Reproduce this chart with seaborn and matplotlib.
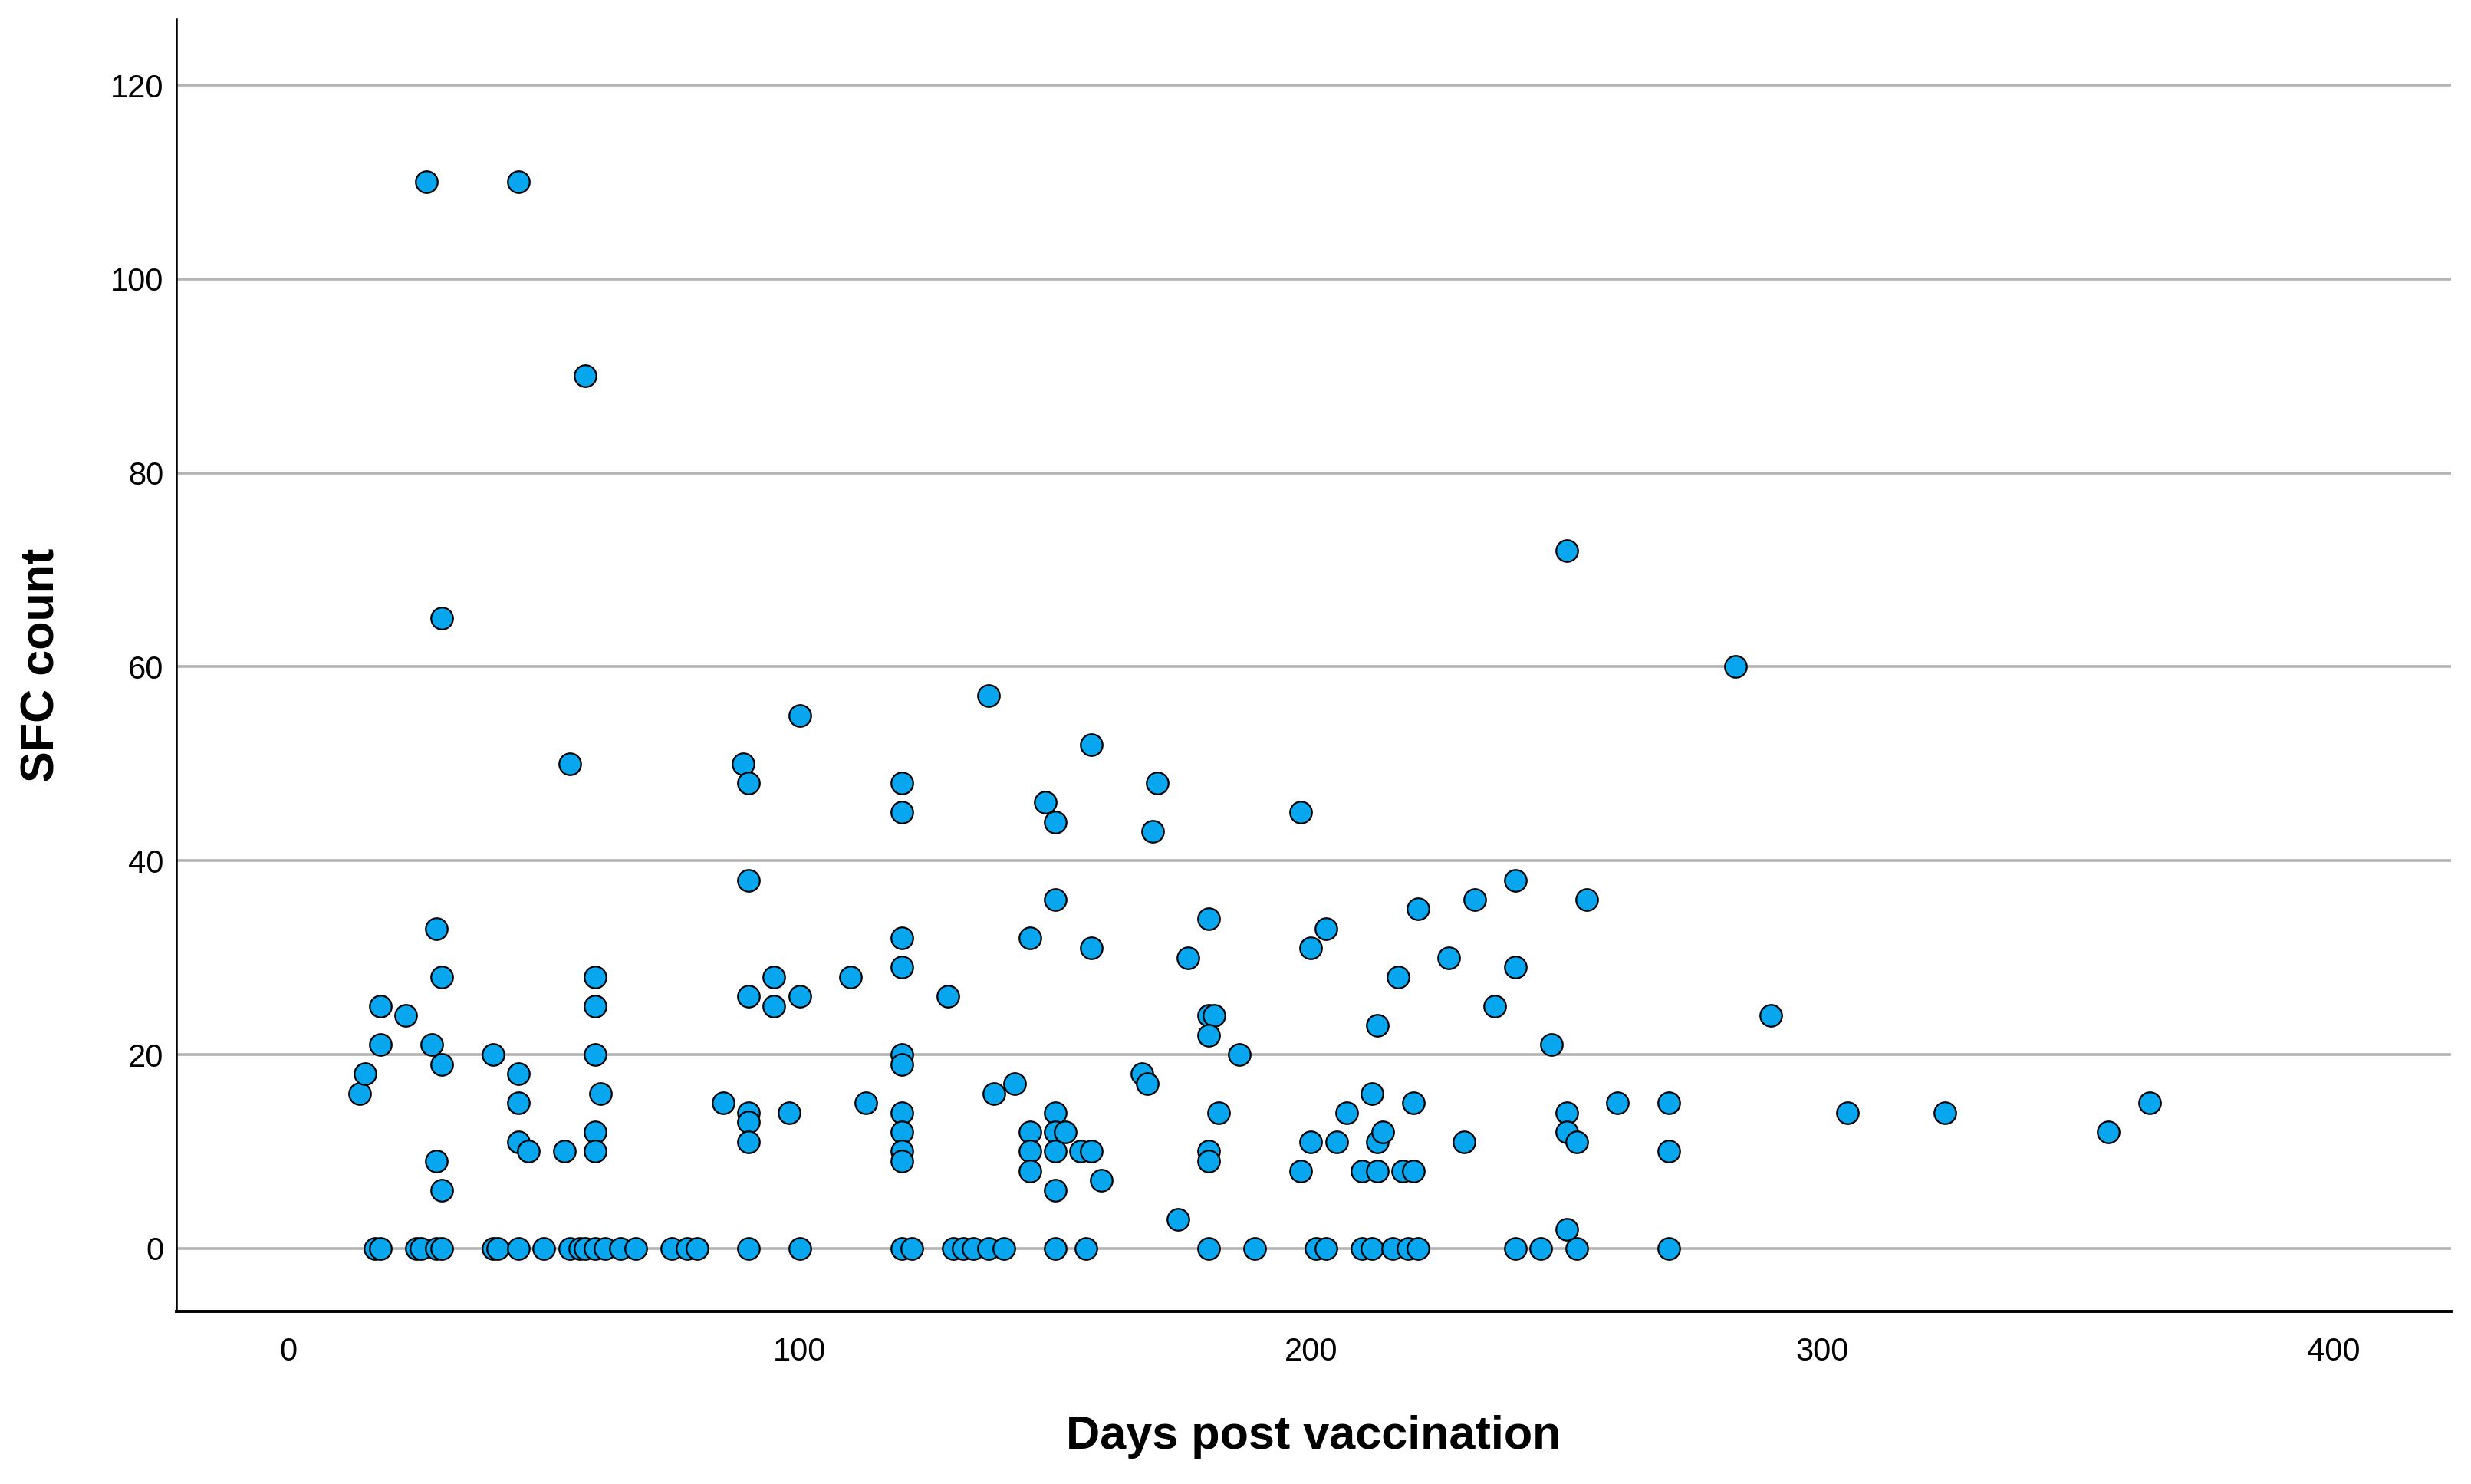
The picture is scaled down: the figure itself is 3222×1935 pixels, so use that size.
import matplotlib
matplotlib.use("Agg")
import matplotlib.pyplot as plt
import seaborn as sns
import pandas as pd

# points with a non-zero SFC count
days = [14, 15, 18, 18, 23, 27, 28, 29, 29, 30, 30, 30, 30, 40, 45, 45, 45, 45, 47, 54,
        55, 58, 60, 60, 60, 60, 60, 61,
        85, 89, 90, 90, 90, 90, 90, 90, 95, 95, 98, 100, 100, 110, 113,
        120, 120, 120, 120, 120, 120, 120, 120, 120, 120, 129, 137, 138, 142,
        145, 145, 145, 145, 148, 150, 150, 150, 150, 150, 150, 152, 155, 157, 157, 157, 159,
        167, 168, 169, 170, 174, 176, 180, 180, 181, 180, 180, 180, 182, 186,
        198, 198, 200, 200, 203, 205, 207, 210, 212, 213, 213, 214, 213, 217, 218, 220, 220, 221,
        227, 230, 232, 236, 240, 240, 247, 250, 250, 250, 250, 252, 254, 260, 270, 270,
        283, 290, 305, 324, 356, 364]
sfc = [16, 18, 25, 21, 24, 110, 21, 33, 9, 28, 65, 19, 6, 20, 110, 18, 15, 11, 10, 10,
       50, 90, 28, 25, 20, 12, 10, 16,
       15, 50, 48, 38, 26, 14, 13, 11, 28, 25, 14, 55, 26, 28, 15,
       48, 45, 32, 29, 20, 19, 14, 12, 10, 9, 26, 57, 16, 17,
       32, 12, 10, 8, 46, 44, 36, 14, 12, 10, 6, 12, 10, 10, 52, 31, 7,
       18, 17, 43, 48, 3, 30, 34, 24, 24, 22, 10, 9, 14, 20,
       45, 8, 31, 11, 33, 11, 14, 8, 16, 23, 11, 12, 8, 28, 8, 8, 15, 35,
       30, 11, 36, 25, 38, 29, 21, 72, 14, 12, 2, 11, 36, 15, 15, 10,
       60, 24, 14, 14, 12, 15]

# days with an SFC count of zero
zero_days = [17, 18, 25, 26, 29, 30, 40, 41, 45, 50, 55, 57, 58, 60, 62, 65, 68, 75, 78, 80,
             90, 100, 120, 122, 130, 132, 134, 137, 140, 150, 156, 180, 189, 201, 203,
             210, 212, 216, 219, 221, 240, 245, 252, 270]

df = pd.DataFrame({
    "Days post vaccination": days + zero_days,
    "SFC count": sfc + [0] * len(zero_days),
})

sns.set_style("white")
plt.rcParams["font.family"] = ["Liberation Sans", "DejaVu Sans"]
plt.rcParams["text.color"] = "black"
plt.rcParams["axes.labelcolor"] = "black"

fig = plt.figure(figsize=(3223 / 200, 1935 / 200), dpi=200)
ax = fig.add_axes([0.0714, 0.1163, 0.9202, 0.8707])

ax.yaxis.grid(True, color="#b3b3b3", linewidth=1.3)
ax.set_axisbelow(True)

sns.scatterplot(data=df, x="Days post vaccination", y="SFC count", ax=ax,
                color="#08a6ee", edgecolor="black", linewidth=0.8, s=105, zorder=3)

ax.set_xlim(-21.9, 423)
ax.set_ylim(-6.5, 126.8)
ax.set_xticks([0, 100, 200, 300, 400])
ax.set_yticks([0, 20, 40, 60, 80, 100, 120])

for side in ["top", "right"]:
    ax.spines[side].set_visible(False)
ax.spines["left"].set_linewidth(0.9)
ax.spines["bottom"].set_linewidth(1.4)
ax.spines["left"].set_color("black")
ax.spines["bottom"].set_color("black")

ax.tick_params(axis="x", length=0, pad=12, labelsize=15, colors="black")
ax.tick_params(axis="y", length=0, pad=6, labelsize=15, colors="black")

ax.set_xlabel("Days post vaccination", fontsize=22, fontweight="bold", color="black")
ax.set_ylabel("SFC count", fontsize=22, fontweight="bold", color="black")
ax.xaxis.label.set_va("center")
ax.yaxis.label.set_va("center")
ax.xaxis.set_label_coords(0.5, -0.097)
ax.yaxis.set_label_coords(-0.059, 0.5)

fig.savefig("out.png", dpi=200)
